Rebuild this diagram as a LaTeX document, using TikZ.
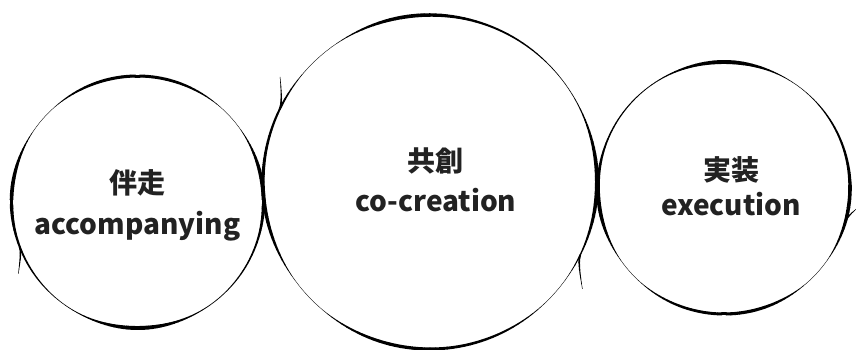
\documentclass[tikz,border=0pt]{standalone}
\usepackage{fontspec}
\newfontfamily\jp{Noto Sans CJK JP}
\definecolor{txt}{HTML}{222222}
% #1 centre, #2 radius, #3 start angle, #4 end angle, #5 tail end angle, #6 tail end radius, #7 phase
\newcommand\skstroke[7]{%
  \pgfmathsetmacro\skdir{((#4)>(#3))*2-1}%
  \pgfmathtruncatemacro\skn{abs((#4)-(#3))/2}%
  \foreach \i in {1,...,\skn} {
    \pgfmathsetmacro\skA{#3+\skdir*2*(\i-1)}
    \pgfmathsetmacro\skB{#3+\skdir*2*\i}
    \pgfmathsetmacro\skW{max(0.35,2.0+1.5*sin(4*\skA+90)+0.5*sin(7*\skA+#7))}
    \draw[shift={(#1)},line width=\skW pt] (\skA:#2) -- (\skB:#2);
  }
  \foreach \i in {1,...,8} {
    \pgfmathsetmacro\skA{#4+((#5)-(#4))*(\i-1)/8}
    \pgfmathsetmacro\skB{#4+((#5)-(#4))*\i/8}
    \pgfmathsetmacro\skRa{#2+((#6)-(#2))*((\i-1)/8)^1.5}
    \pgfmathsetmacro\skRb{#2+((#6)-(#2))*(\i/8)^1.5}
    \pgfmathsetmacro\skW{1.6*(1-(\i-1)/8)+0.3}
    \draw[shift={(#1)},line width=\skW pt] (\skA:\skRa) -- (\skB:\skRb);
  }
}
\begin{document}
\begin{tikzpicture}[x=1pt,y=1pt,line cap=round,
  lbl/.style={font=\jp\bfseries\fontsize{28}{32}\selectfont,text=txt,inner sep=0pt}]
\useasboundingbox (0,0) rectangle (856,350);
\coordinate (L) at (137.5,148);
\coordinate (M) at (430,168);
\coordinate (R) at (724,162);
% left circle
\skstroke{L}{126}{201}{561}{571}{139}{6}
% middle circle (two strokes)
\skstroke{M}{167}{154}{-26}{-35}{186}{80}
\skstroke{M}{167}{-26}{-206}{-215}{183}{150}
% right circle
\skstroke{R}{126}{-15}{345}{351}{134}{200}
% labels
\node[lbl] (Ljp) at (137,167) {伴走};
\node[lbl,anchor=base] (Len) at (137.5,115) {accompanying};
\node[lbl] (Mjp) at (435.5,189) {共創};
\node[lbl,anchor=base] (Men) at (436,138) {co-creation};
\node[lbl] (Rjp) at (731.5,180) {実装};
\node[lbl,anchor=base] (Ren) at (731,134) {execution};
\end{tikzpicture}
\end{document}
